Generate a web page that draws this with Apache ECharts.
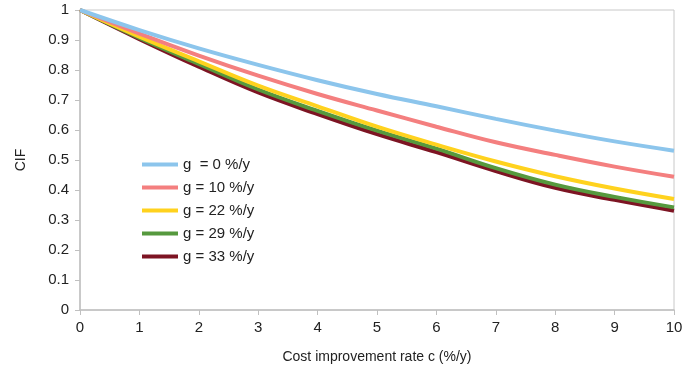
<!DOCTYPE html>
<html>
<head>
<meta charset="utf-8">
<script src="https://cdn.jsdelivr.net/npm/echarts@6/dist/echarts.min.js"></script>
<style>
  html, body { margin: 0; padding: 0; background: #fff; }
  #chart { width: 699px; height: 374px; }
</style>
</head>
<body>
<div id="chart"></div>
<script>
// cost improvement rate c (%/y)
const rates = [0, 1, 2, 3, 4, 5, 6, 7, 8, 9, 10]
const seriesNames = ['g  = 0 %/y', 'g = 10 %/y', 'g = 22 %/y', 'g = 29 %/y', 'g = 33 %/y']
const cifG0 = [1, 0.933, 0.872, 0.817, 0.766, 0.72, 0.679, 0.637, 0.598, 0.562, 0.531]
const cifG10 = [1, 0.921, 0.848, 0.781, 0.72, 0.665, 0.611, 0.559, 0.517, 0.478, 0.444]
const cifG22 = [1, 0.911, 0.829, 0.748, 0.679, 0.611, 0.551, 0.495, 0.446, 0.405, 0.37]
const cifG29 = [1, 0.907, 0.82, 0.735, 0.664, 0.598, 0.538, 0.473, 0.418, 0.377, 0.342]
const cifG33 = [1, 0.903, 0.811, 0.725, 0.653, 0.586, 0.526, 0.463, 0.407, 0.367, 0.331]
const lineColors = ['#8cc5ec', '#f47f7f', '#ffd21e', '#56993e', '#7d1423']

const chart = echarts.init(document.getElementById('chart'))

function pairs(ys) {
  return rates.map((c, i) => [c, ys[i]])
}

const allData = [cifG0, cifG10, cifG22, cifG29, cifG33]
const font = 'Liberation Sans, Arial, sans-serif'

const option = {
  animation: false,
  color: lineColors,
  grid: {
    left: 80,
    right: 25,
    top: 10,
    bottom: 64,
    show: true,
    borderColor: '#c8c8c8',
    borderWidth: 1
  },
  legend: {
    orient: 'vertical',
    left: 137,
    top: 152,
    icon: 'rect',
    itemWidth: 36,
    itemHeight: 4,
    itemGap: 8,
    data: seriesNames,
    textStyle: { fontFamily: font, fontSize: 15, color: '#222' }
  },
  xAxis: {
    type: 'value',
    min: 0,
    max: 10,
    interval: 1,
    name: 'Cost improvement rate c (%/y)',
    nameLocation: 'middle',
    nameGap: 40,
    nameTextStyle: { fontFamily: font, fontSize: 14, color: '#222' },
    axisLine: { lineStyle: { color: '#c0c0c0', width: 1.5 } },
    axisTick: { show: true, length: 5, lineStyle: { color: '#c0c0c0' } },
    axisLabel: { fontFamily: font, fontSize: 15, color: '#222', margin: 10 },
    splitLine: { show: false }
  },
  yAxis: {
    type: 'value',
    min: 0,
    max: 1,
    interval: 0.1,
    name: 'CIF',
    nameLocation: 'middle',
    nameGap: 52,
    nameTextStyle: { fontFamily: font, fontSize: 14, color: '#222' },
    axisLine: { show: true, lineStyle: { color: '#c0c0c0', width: 1.5 } },
    axisTick: { show: true, length: 5, lineStyle: { color: '#c0c0c0' } },
    axisLabel: {
      fontFamily: font, fontSize: 15, color: '#222', margin: 11,
      formatter: v => String(Math.round(v * 10) / 10)
    },
    splitLine: { show: false }
  },
  series: seriesNames.map((name, i) => ({
    name: name,
    type: 'line',
    smooth: 0.4,
    symbol: 'none',
    lineStyle: { width: 4, color: lineColors[i] },
    z: 10 - i,
    data: pairs(allData[i])
  }))
}

chart.setOption(option)
</script>
</body>
</html>
